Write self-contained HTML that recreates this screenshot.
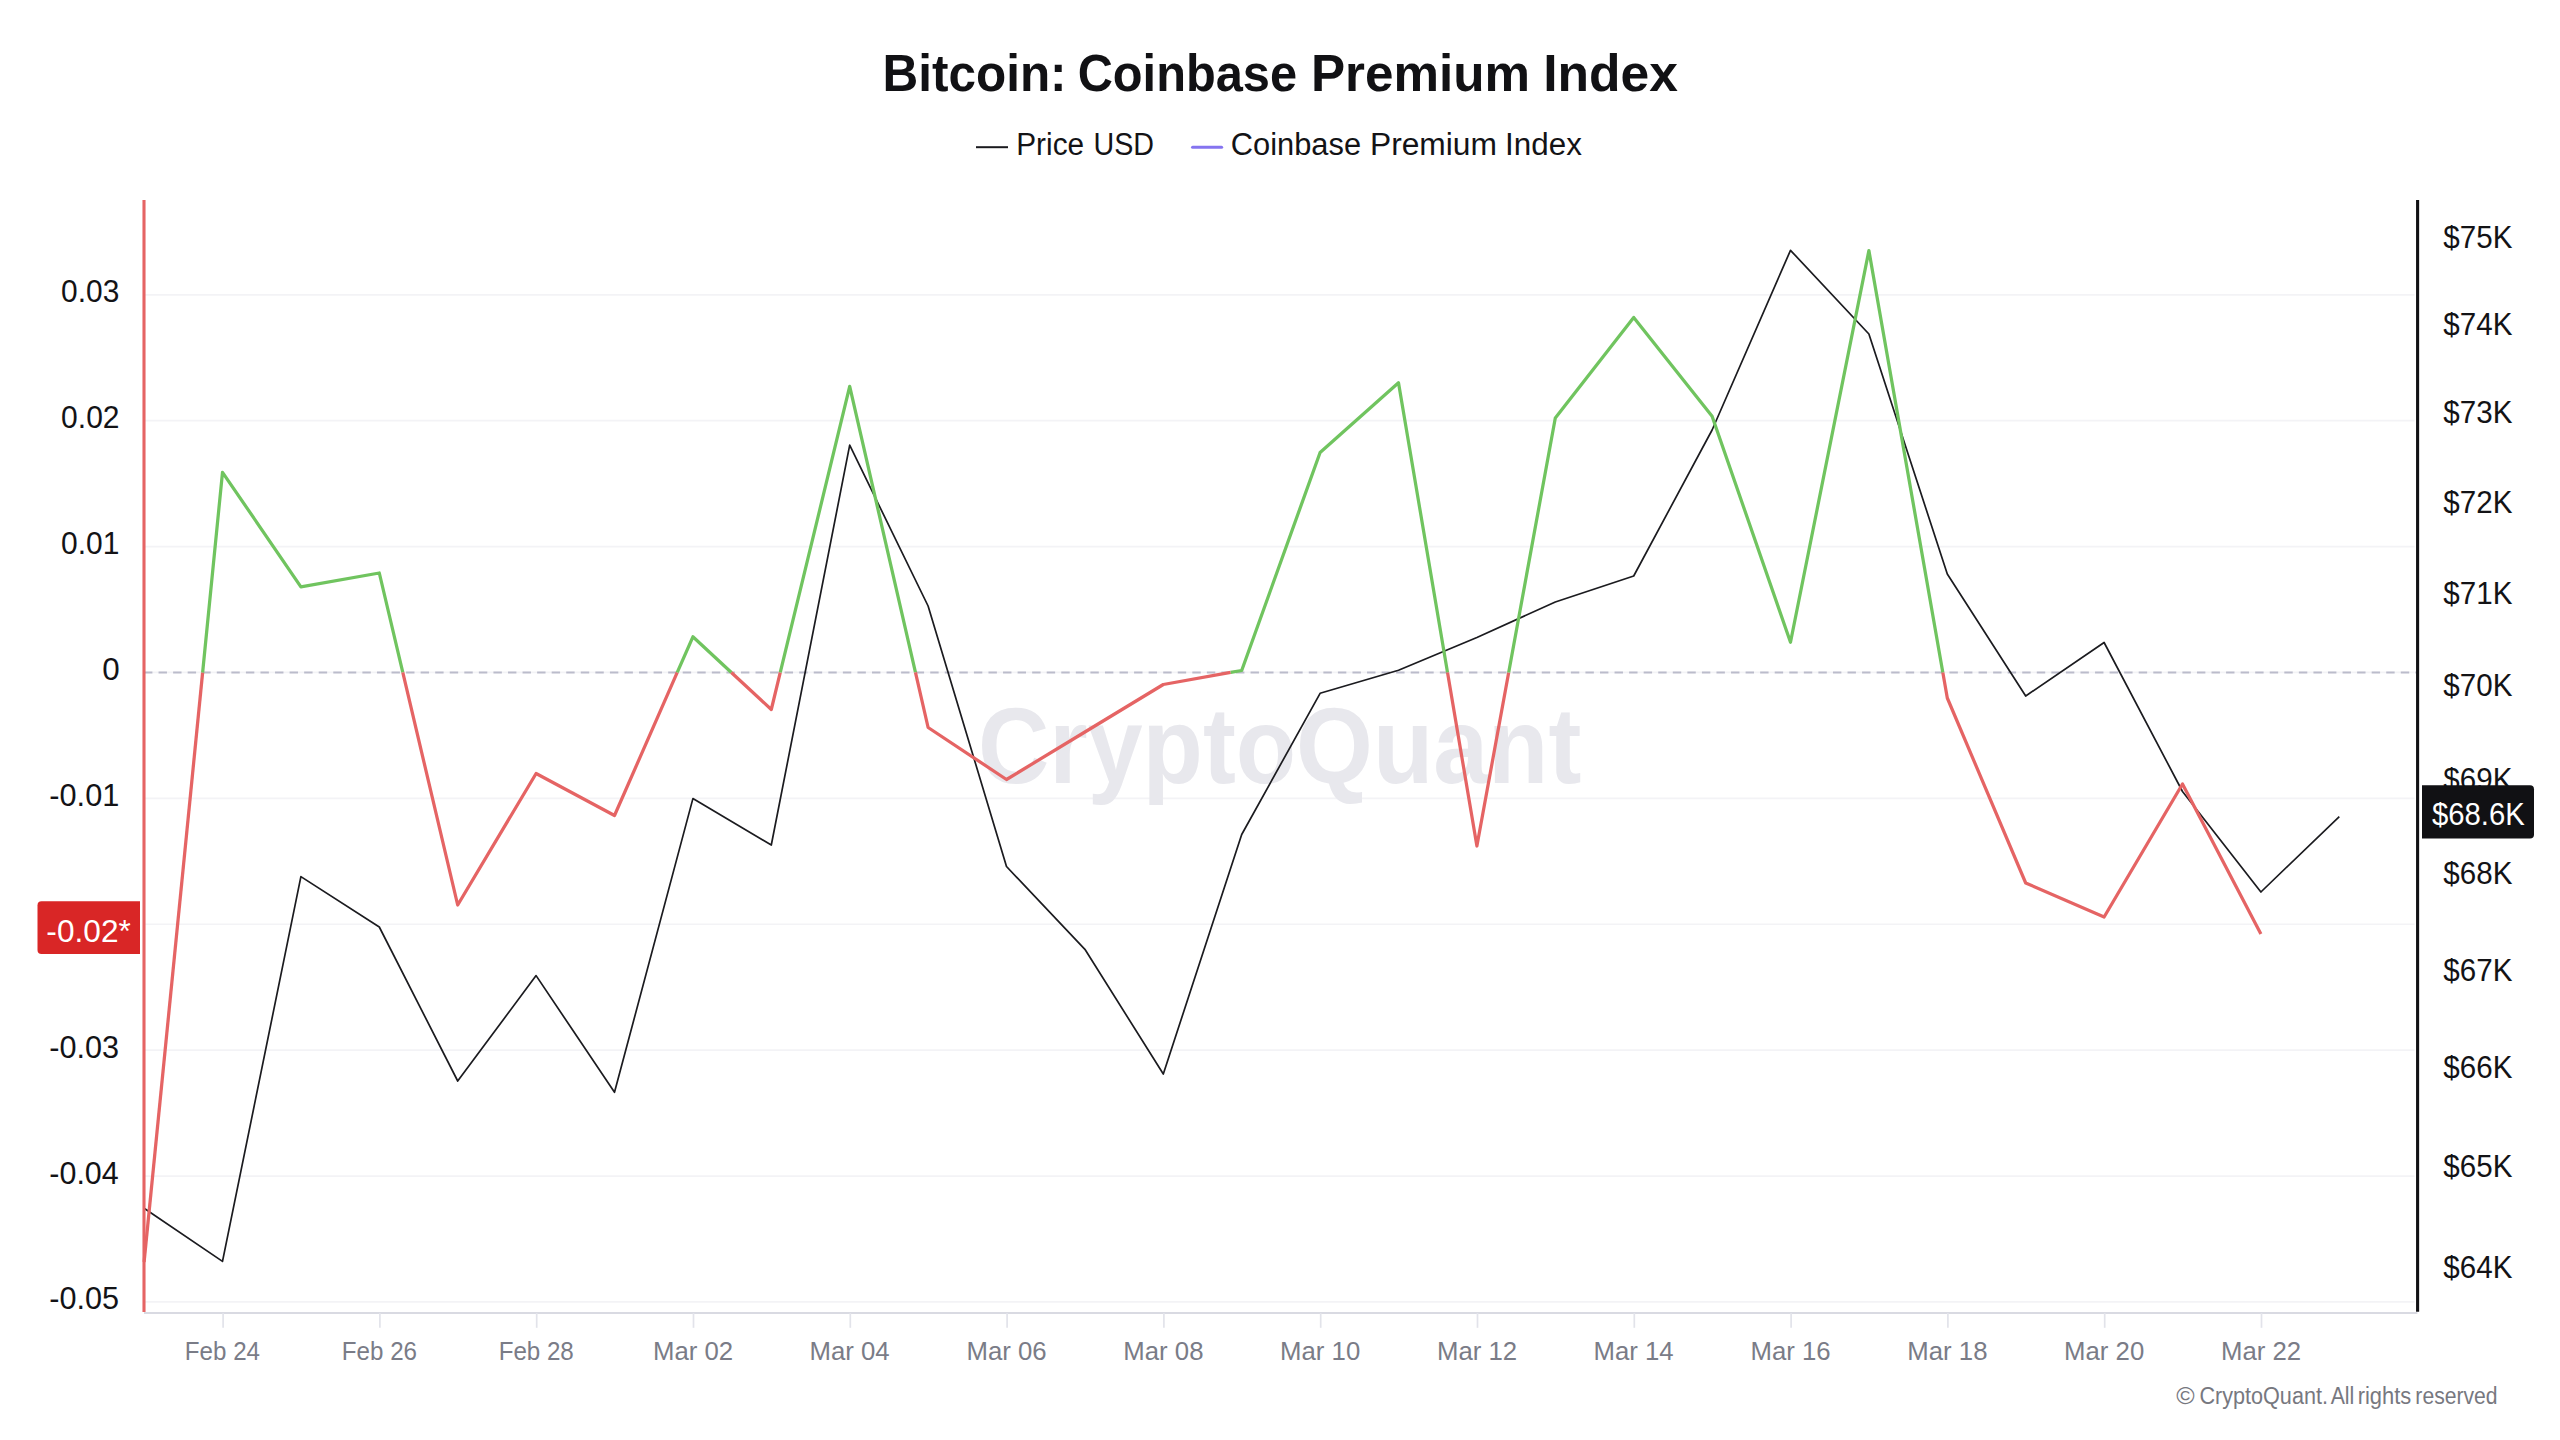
<!DOCTYPE html>
<html lang="en"><head><meta charset="utf-8">
<title>Bitcoin: Coinbase Premium Index</title>
<style>
html,body{margin:0;padding:0;background:#fff;}
body{width:2560px;height:1440px;overflow:hidden;}
svg{display:block;}
text{font-family:"Liberation Sans",Arial,Helvetica,sans-serif;}
</style></head><body>
<svg width="2560" height="1440" viewBox="0 0 2560 1440">
<rect width="2560" height="1440" fill="#ffffff"/>
<text y="91" font-size="52" font-weight="700" fill="#111114"><tspan x="882.56" textLength="184" lengthAdjust="spacingAndGlyphs">Bitcoin:</tspan> <tspan x="1077.65" textLength="219.39" lengthAdjust="spacingAndGlyphs">Coinbase</tspan> <tspan x="1310.94" textLength="219.13" lengthAdjust="spacingAndGlyphs">Premium</tspan> <tspan x="1543.22" textLength="134.77" lengthAdjust="spacingAndGlyphs">Index</tspan></text>
<line x1="976" y1="147.2" x2="1008" y2="147.2" stroke="#1a1a1e" stroke-width="2"/>
<text y="155" font-size="31" fill="#131316"><tspan x="1016.24" textLength="67.85" lengthAdjust="spacingAndGlyphs">Price</tspan> <tspan x="1093.48" textLength="60.55" lengthAdjust="spacingAndGlyphs">USD</tspan></text>
<line x1="1192.6" y1="147.3" x2="1221.6" y2="147.3" stroke="#8574f0" stroke-width="3.1" stroke-linecap="round"/>
<text y="155" font-size="31" fill="#131316"><tspan x="1230.86" textLength="130.16" lengthAdjust="spacingAndGlyphs">Coinbase</tspan> <tspan x="1369.98" textLength="127" lengthAdjust="spacingAndGlyphs">Premium</tspan> <tspan x="1505.1" textLength="76.76" lengthAdjust="spacingAndGlyphs">Index</tspan></text>
<line x1="144" y1="1301.92" x2="2414.5" y2="1301.92" stroke="#f3f3f6" stroke-width="1.7"/>
<line x1="144" y1="1176.03" x2="2414.5" y2="1176.03" stroke="#f3f3f6" stroke-width="1.7"/>
<line x1="144" y1="1050.14" x2="2414.5" y2="1050.14" stroke="#f3f3f6" stroke-width="1.7"/>
<line x1="144" y1="924.25" x2="2414.5" y2="924.25" stroke="#f3f3f6" stroke-width="1.7"/>
<line x1="144" y1="798.36" x2="2414.5" y2="798.36" stroke="#f3f3f6" stroke-width="1.7"/>
<line x1="144" y1="672.47" x2="2414.5" y2="672.47" stroke="#f3f3f6" stroke-width="1.7"/>
<line x1="144" y1="546.58" x2="2414.5" y2="546.58" stroke="#f3f3f6" stroke-width="1.7"/>
<line x1="144" y1="420.69" x2="2414.5" y2="420.69" stroke="#f3f3f6" stroke-width="1.7"/>
<line x1="144" y1="294.8" x2="2414.5" y2="294.8" stroke="#f3f3f6" stroke-width="1.7"/>
<text x="977.95" y="783.1" font-size="107" font-weight="700" fill="#e8e8ed" textLength="603.38" lengthAdjust="spacingAndGlyphs">CryptoQuant</text>
<line x1="144" y1="672.47" x2="2417.6" y2="672.47" stroke="#bbbccb" stroke-width="2" stroke-dasharray="8.4 6.16"/>
<line x1="144" y1="1313" x2="2417.4" y2="1313" stroke="#d9dae2" stroke-width="2"/>
<line x1="223.1" y1="1313" x2="223.1" y2="1327.8" stroke="#e2e3ea" stroke-width="1.7"/>
<text x="184.86" y="1360" font-size="25.5" fill="#7a7c87" textLength="75.18" lengthAdjust="spacingAndGlyphs">Feb 24</text>
<line x1="379.9" y1="1313" x2="379.9" y2="1327.8" stroke="#e2e3ea" stroke-width="1.7"/>
<text x="341.84" y="1360" font-size="25.5" fill="#7a7c87" textLength="75.18" lengthAdjust="spacingAndGlyphs">Feb 26</text>
<line x1="536.7" y1="1313" x2="536.7" y2="1327.8" stroke="#e2e3ea" stroke-width="1.7"/>
<text x="498.64" y="1360" font-size="25.5" fill="#7a7c87" textLength="75.18" lengthAdjust="spacingAndGlyphs">Feb 28</text>
<line x1="693.5" y1="1313" x2="693.5" y2="1327.8" stroke="#e2e3ea" stroke-width="1.7"/>
<text x="653.02" y="1360" font-size="25.5" fill="#7a7c87" textLength="80.18" lengthAdjust="spacingAndGlyphs">Mar 02</text>
<line x1="850.3" y1="1313" x2="850.3" y2="1327.8" stroke="#e2e3ea" stroke-width="1.7"/>
<text x="809.53" y="1360" font-size="25.5" fill="#7a7c87" textLength="80.18" lengthAdjust="spacingAndGlyphs">Mar 04</text>
<line x1="1007.1" y1="1313" x2="1007.1" y2="1327.8" stroke="#e2e3ea" stroke-width="1.7"/>
<text x="966.52" y="1360" font-size="25.5" fill="#7a7c87" textLength="80.18" lengthAdjust="spacingAndGlyphs">Mar 06</text>
<line x1="1163.9" y1="1313" x2="1163.9" y2="1327.8" stroke="#e2e3ea" stroke-width="1.7"/>
<text x="1123.32" y="1360" font-size="25.5" fill="#7a7c87" textLength="80.18" lengthAdjust="spacingAndGlyphs">Mar 08</text>
<line x1="1320.7" y1="1313" x2="1320.7" y2="1327.8" stroke="#e2e3ea" stroke-width="1.7"/>
<text x="1280.06" y="1360" font-size="25.5" fill="#7a7c87" textLength="80.18" lengthAdjust="spacingAndGlyphs">Mar 10</text>
<line x1="1477.5" y1="1313" x2="1477.5" y2="1327.8" stroke="#e2e3ea" stroke-width="1.7"/>
<text x="1437.02" y="1360" font-size="25.5" fill="#7a7c87" textLength="80.18" lengthAdjust="spacingAndGlyphs">Mar 12</text>
<line x1="1634.3" y1="1313" x2="1634.3" y2="1327.8" stroke="#e2e3ea" stroke-width="1.7"/>
<text x="1593.53" y="1360" font-size="25.5" fill="#7a7c87" textLength="80.18" lengthAdjust="spacingAndGlyphs">Mar 14</text>
<line x1="1791.1" y1="1313" x2="1791.1" y2="1327.8" stroke="#e2e3ea" stroke-width="1.7"/>
<text x="1750.52" y="1360" font-size="25.5" fill="#7a7c87" textLength="80.18" lengthAdjust="spacingAndGlyphs">Mar 16</text>
<line x1="1947.9" y1="1313" x2="1947.9" y2="1327.8" stroke="#e2e3ea" stroke-width="1.7"/>
<text x="1907.32" y="1360" font-size="25.5" fill="#7a7c87" textLength="80.18" lengthAdjust="spacingAndGlyphs">Mar 18</text>
<line x1="2104.7" y1="1313" x2="2104.7" y2="1327.8" stroke="#e2e3ea" stroke-width="1.7"/>
<text x="2064.06" y="1360" font-size="25.5" fill="#7a7c87" textLength="80.18" lengthAdjust="spacingAndGlyphs">Mar 20</text>
<line x1="2261.5" y1="1313" x2="2261.5" y2="1327.8" stroke="#e2e3ea" stroke-width="1.7"/>
<text x="2221.02" y="1360" font-size="25.5" fill="#7a7c87" textLength="80.18" lengthAdjust="spacingAndGlyphs">Mar 22</text>
<text x="49.32" y="1309.42" font-size="31.5" fill="#131316" textLength="69.76" lengthAdjust="spacingAndGlyphs">-0.05</text>
<text x="49.33" y="1183.53" font-size="31.5" fill="#131316" textLength="69.36" lengthAdjust="spacingAndGlyphs">-0.04</text>
<text x="49.32" y="1057.64" font-size="31.5" fill="#131316" textLength="69.84" lengthAdjust="spacingAndGlyphs">-0.03</text>
<text x="49.32" y="805.86" font-size="31.5" fill="#131316" textLength="70" lengthAdjust="spacingAndGlyphs">-0.01</text>
<text x="102.34" y="679.97" font-size="31.5" fill="#131316" textLength="17.47" lengthAdjust="spacingAndGlyphs">0</text>
<text x="61.1" y="554.08" font-size="31.5" fill="#131316" textLength="58.36" lengthAdjust="spacingAndGlyphs">0.01</text>
<text x="61.1" y="428.19" font-size="31.5" fill="#131316" textLength="58.44" lengthAdjust="spacingAndGlyphs">0.02</text>
<text x="61.1" y="302.3" font-size="31.5" fill="#131316" textLength="58.21" lengthAdjust="spacingAndGlyphs">0.03</text>
<text x="2443.3" y="1278.1" font-size="31.5" fill="#131316" textLength="69.08" lengthAdjust="spacingAndGlyphs">$64K</text>
<text x="2443.3" y="1177.4" font-size="31.5" fill="#131316" textLength="69.08" lengthAdjust="spacingAndGlyphs">$65K</text>
<text x="2443.3" y="1078.23" font-size="31.5" fill="#131316" textLength="69.08" lengthAdjust="spacingAndGlyphs">$66K</text>
<text x="2443.3" y="980.55" font-size="31.5" fill="#131316" textLength="69.08" lengthAdjust="spacingAndGlyphs">$67K</text>
<text x="2443.3" y="884.32" font-size="31.5" fill="#131316" textLength="69.08" lengthAdjust="spacingAndGlyphs">$68K</text>
<text x="2443.3" y="789.5" font-size="31.5" fill="#131316" textLength="69.08" lengthAdjust="spacingAndGlyphs">$69K</text>
<text x="2443.3" y="696.04" font-size="31.5" fill="#131316" textLength="69.08" lengthAdjust="spacingAndGlyphs">$70K</text>
<text x="2443.3" y="603.9" font-size="31.5" fill="#131316" textLength="69.08" lengthAdjust="spacingAndGlyphs">$71K</text>
<text x="2443.3" y="513.06" font-size="31.5" fill="#131316" textLength="69.08" lengthAdjust="spacingAndGlyphs">$72K</text>
<text x="2443.3" y="423.46" font-size="31.5" fill="#131316" textLength="69.08" lengthAdjust="spacingAndGlyphs">$73K</text>
<text x="2443.3" y="335.09" font-size="31.5" fill="#131316" textLength="69.08" lengthAdjust="spacingAndGlyphs">$74K</text>
<text x="2443.3" y="247.9" font-size="31.5" fill="#131316" textLength="69.08" lengthAdjust="spacingAndGlyphs">$75K</text>
<polyline fill="none" stroke="#1b1b1f" stroke-width="1.7" stroke-linejoin="round" points="144.1,1208.3 222.5,1261.4 300.9,876.6 379.3,927 457.7,1081 536.1,975.6 614.5,1092.3 692.9,798.6 771.3,845 849.7,445.2 928.1,606 1006.5,866.5 1084.9,949.3 1163.3,1074 1241.7,834.5 1320.1,693.3 1398.5,670.2 1476.9,637.5 1555.3,602 1633.7,576 1712.1,430 1790.5,250.3 1868.9,334 1947.3,574 2025.7,696 2104.1,642.5 2182.5,791.5 2260.9,892 2339.3,816.6"/>
<polyline fill="none" stroke="#e56464" stroke-width="3.25" stroke-linejoin="round" stroke-linecap="butt" points="144.1,1262 202.63,672.47"/>
<polyline fill="none" stroke="#70c45f" stroke-width="3.25" stroke-linejoin="round" stroke-linecap="butt" points="202.63,672.47 222.5,472.3 300.9,586.8 379.3,573 402.79,672.47"/>
<polyline fill="none" stroke="#e56464" stroke-width="3.25" stroke-linejoin="round" stroke-linecap="butt" points="402.79,672.47 457.7,905 536.1,773.5 614.5,815.5 677.25,672.47"/>
<polyline fill="none" stroke="#70c45f" stroke-width="3.25" stroke-linejoin="round" stroke-linecap="butt" points="677.25,672.47 692.9,636.8 731.37,672.47"/>
<polyline fill="none" stroke="#e56464" stroke-width="3.25" stroke-linejoin="round" stroke-linecap="butt" points="731.37,672.47 771.3,709.5 780.28,672.47"/>
<polyline fill="none" stroke="#70c45f" stroke-width="3.25" stroke-linejoin="round" stroke-linecap="butt" points="780.28,672.47 849.7,386.3 915.46,672.47"/>
<polyline fill="none" stroke="#e56464" stroke-width="3.25" stroke-linejoin="round" stroke-linecap="butt" points="915.46,672.47 928.1,727.5 1006.5,779.5 1084.9,732 1163.3,684.5 1230.67,672.47"/>
<polyline fill="none" stroke="#70c45f" stroke-width="3.25" stroke-linejoin="round" stroke-linecap="butt" points="1230.67,672.47 1241.7,670.5 1320.1,452.5 1398.5,382.8 1447.53,672.47"/>
<polyline fill="none" stroke="#e56464" stroke-width="3.25" stroke-linejoin="round" stroke-linecap="butt" points="1447.53,672.47 1476.9,846 1508.69,672.47"/>
<polyline fill="none" stroke="#70c45f" stroke-width="3.25" stroke-linejoin="round" stroke-linecap="butt" points="1508.69,672.47 1555.3,418 1633.7,317.4 1712.1,416.2 1790.5,642.3 1868.9,250.6 1942.83,672.47"/>
<polyline fill="none" stroke="#e56464" stroke-width="3.25" stroke-linejoin="round" stroke-linecap="butt" points="1942.83,672.47 1947.3,698 2025.7,883 2104.1,917 2182.5,784 2260.9,934"/>
<line x1="144" y1="200" x2="144" y2="1312" stroke="#e56464" stroke-width="3.1"/>
<line x1="2417.6" y1="200" x2="2417.6" y2="1311.8" stroke="#111114" stroke-width="3.1"/>
<path d="M41.5 901.3H140V954H41.5a4 4 0 0 1-4-4V905.3a4 4 0 0 1 4-4Z" fill="#d92626"/>
<text x="46.38" y="941.5" font-size="31.5" fill="#ffffff" textLength="84.43" lengthAdjust="spacingAndGlyphs">-0.02*</text>
<path d="M2422 785.3H2530a4 4 0 0 1 4 4V834.6a4 4 0 0 1-4 4H2422Z" fill="#111114"/>
<text x="2431.91" y="825" font-size="31.5" fill="#ffffff" textLength="92.85" lengthAdjust="spacingAndGlyphs">$68.6K</text>
<text y="1403.8" font-size="23" fill="#77787f"><tspan x="2176.23" textLength="18.39" lengthAdjust="spacingAndGlyphs">©</tspan> <tspan x="2199.42" textLength="128.52" lengthAdjust="spacingAndGlyphs">CryptoQuant.</tspan> <tspan x="2330.65" textLength="23.67" lengthAdjust="spacingAndGlyphs">All</tspan> <tspan x="2357.72" textLength="53.55" lengthAdjust="spacingAndGlyphs">rights</tspan> <tspan x="2415.37" textLength="82.26" lengthAdjust="spacingAndGlyphs">reserved</tspan></text>
</svg>
</body></html>
